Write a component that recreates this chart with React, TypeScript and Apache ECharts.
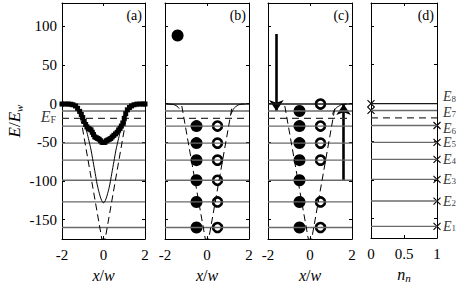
import React, { useEffect, useRef } from 'react';
import * as echarts from 'echarts';

// Energy levels E1..E8 (in units of E_w)
const levelNames = ['1', '2', '3', '4', '5', '6', '7', '8'];
const levelEnergies = [-160, -127, -99, -73, -51, -29, -9.5, -0.5];
const fermiEnergy = -19;
const yTickValues = [-150, -100, -50, 0, 50, 100];

// Panel (a): potentials and density curve
const potentialSolid: number[][] = [
  [-2, 0], [-1.6, -0.5], [-1.4, -2], [-1.2, -7], [-1.05, -15], [-0.9, -27], [-0.8, -37],
  [-0.7, -48], [-0.6, -60], [-0.5, -75], [-0.4, -90], [-0.3, -105], [-0.2, -116],
  [-0.12, -123], [-0.05, -127], [0, -128], [0.05, -127], [0.12, -123], [0.2, -116],
  [0.3, -105], [0.4, -90], [0.5, -75], [0.6, -60], [0.7, -48], [0.8, -37], [0.9, -27],
  [1.05, -15], [1.2, -7], [1.4, -2], [1.6, -0.5], [2, 0],
];
const potentialDashed: number[][] = [[-1.2, -3], [-0.08, -175], [0.08, -175], [1.2, -3]];
const densityCurve: number[][] = [
  [-2, -0.5], [-1.85, -0.5], [-1.7, -0.5], [-1.58, -0.8], [-1.47, -1.5], [-1.35, -3],
  [-1.25, -6], [-1.15, -10], [-1.07, -14], [-1.0, -18], [-0.93, -23], [-0.86, -27],
  [-0.8, -30], [-0.73, -32], [-0.66, -33], [-0.6, -34], [-0.54, -37], [-0.48, -40],
  [-0.42, -43], [-0.35, -44], [-0.28, -45], [-0.21, -46], [-0.14, -48], [-0.07, -50],
  [0, -50], [0.07, -50], [0.14, -48], [0.21, -47], [0.28, -46], [0.35, -45], [0.42, -43],
  [0.5, -41], [0.58, -39], [0.66, -37], [0.73, -34], [0.8, -32], [0.86, -29], [0.93, -25],
  [1.0, -19], [1.07, -13], [1.15, -8], [1.25, -5], [1.35, -3], [1.47, -1.5], [1.6, -0.7],
  [1.75, -0.5], [1.9, -0.5], [2, -0.5],
];

// Panels (b) and (c)
const bEdgeLeft: number[][] = [[-1.9, -0.5], [-1.65, -1], [-1.48, -2.5], [-1.38, -4.5], [-1.32, -6.5]];
const bEdgeRight: number[][] = [[1.14, -14], [1.22, -9], [1.32, -5], [1.42, -3], [1.58, -1], [1.8, -0.5]];
const cEdgeRight: number[][] = [[1.07, -14], [1.15, -9], [1.25, -5.5], [1.36, -3.5], [1.52, -1.2], [1.75, -0.5]];
const freeElectron: number[][] = [[-1.4, 88]];
const bFilled = [-160, -127, -99, -73, -51, -29];
const bOpen = [-160, -127, -99, -73, -51, -29];
const cFilled = [-160, -127, -99, -73, -51, -29, -9.5];
const cOpen = [-160, -127, -73, -51, -29, -0.5];
const filledX = -0.5;
const openX = 0.5;
const downArrow: number[][] = [[-1.6, 90], [-1.6, -9.5]];
const upArrow: number[][] = [[1.6, -99], [1.6, -0.5]];

// Panel (d): occupation n_n of each level
const occupation = [1, 1, 1, 1, 1, 1, 0, 0];
const labelShift = [0, 0, 0, 0, 0, 3, 2, -7];

const FONT = "'Liberation Serif', 'DejaVu Serif', serif";

const grids = [
  { left: 62, top: 3, width: 83, height: 237 },
  { left: 165, top: 3, width: 84, height: 237 },
  { left: 268, top: 3, width: 84, height: 237 },
  { left: 371, top: 3, width: 66, height: 237 },
];
const panelLetters = ['(a)', '(b)', '(c)', '(d)'];

export default function App() {
  const ref = useRef<HTMLDivElement>(null);
  useEffect(() => {
    if (!ref.current) return;
    const chart = echarts.init(ref.current, undefined, { renderer: 'svg' });

    const xAxes: any[] = [];
    const yAxes: any[] = [];
    const axisLine = { show: true, onZero: false, lineStyle: { color: '#000', width: 1 } };
    grids.forEach((g, i) => {
      const isD = i === 3;
      const xBase = {
        type: 'value',
        gridIndex: i,
        min: isD ? 0 : -2,
        max: isD ? 1 : 2,
        interval: isD ? 0.5 : 2,
        splitLine: { show: false },
        axisLine,
      };
      xAxes.push({
        ...xBase,
        position: 'bottom',
        axisTick: { show: true, inside: true, length: 3, lineStyle: { color: '#000' } },
        axisLabel: {
          show: true,
          fontFamily: FONT,
          fontSize: 15,
          color: '#000',
          margin: 8,
          formatter: (v: number) => String(v),
        },
        name: isD ? '{i|n}{s|n}' : '{i|x}{r|/}{i|w}',
        nameLocation: 'middle',
        nameGap: 27,
        nameTextStyle: {
          fontFamily: FONT,
          fontSize: 16,
          color: '#000',
          rich: {
            i: { fontFamily: FONT, fontSize: 16, fontStyle: 'italic', color: '#000' },
            r: { fontFamily: FONT, fontSize: 16, color: '#000' },
            s: { fontFamily: FONT, fontSize: 11, fontStyle: 'italic', color: '#000', padding: [7, 0, 0, 0] },
          },
        },
      });
      xAxes.push({
        ...xBase,
        position: 'top',
        axisTick: { show: true, inside: true, length: 3, lineStyle: { color: '#000' } },
        axisLabel: { show: false },
      });
      const yBase = {
        type: 'value',
        gridIndex: i,
        min: -175,
        max: 130,
        splitLine: { show: false },
        axisLine,
        axisTick: { show: true, inside: true, length: 3, customValues: yTickValues, lineStyle: { color: '#000' } },
      };
      yAxes.push({
        ...yBase,
        position: 'left',
        axisLabel: {
          show: i === 0,
          customValues: yTickValues,
          fontFamily: FONT,
          fontSize: 15,
          color: '#000',
          margin: 5,
        },
        name: i === 0 ? '{i|E}{r|/}{i|E}{s|w}' : '',
        nameLocation: 'middle',
        nameGap: 38,
        nameRotate: 90,
        nameTextStyle: {
          fontFamily: FONT,
          rich: {
            i: { fontFamily: FONT, fontSize: 17, fontStyle: 'italic', color: '#000' },
            r: { fontFamily: FONT, fontSize: 17, color: '#000' },
            s: { fontFamily: FONT, fontSize: 11, fontStyle: 'italic', color: '#000', padding: [8, 0, 0, 0] },
          },
        },
      });
      yAxes.push({ ...yBase, position: 'right', axisLabel: { show: false } });
    });

    const series: any[] = [];
    const ax = (i: number) => ({ xAxisIndex: i * 2, yAxisIndex: i * 2 });
    const lineS = (i: number, data: number[][], style: any, extra: any = {}) => ({
      type: 'line', ...ax(i), data, symbol: 'none', silent: true, lineStyle: style, ...extra,
    });

    grids.forEach((_, i) => {
      const xmin = i === 3 ? 0 : -2;
      const xmax = i === 3 ? 1 : 2;
      levelEnergies.forEach((e, j) => {
        series.push(lineS(i, [[xmin, e], [xmax, e]], { color: j === 7 && i > 0 ? '#1a1a1a' : '#6a6a6a', width: 1.3 }));
      });
      series.push(lineS(i, [[xmin, fermiEnergy], [xmax, fermiEnergy]], { color: '#333', width: 1.2, type: [7, 5] }));
    });

    // Panel (a)
    series.push(lineS(0, potentialDashed, { color: '#000', width: 1, type: [7, 4] }));
    series.push(lineS(0, potentialSolid, { color: '#000', width: 1 }, { smooth: 0.4 }));
    series.push({
      type: 'line', ...ax(0), data: densityCurve, silent: true,
      symbol: 'rect', symbolSize: 5, showAllSymbol: true,
      itemStyle: { color: '#000', opacity: 1 },
      lineStyle: { color: '#000', width: 3 },
    });
    series.push({
      type: 'scatter', ...ax(0), data: [[-2, fermiEnergy]], symbolSize: 0, silent: true,
      label: {
        show: true, position: 'left', distance: 6, offset: [0, -2],
        formatter: '{i|E}{s|F}',
        rich: {
          i: { fontFamily: FONT, fontSize: 16, fontStyle: 'italic', color: '#000' },
          s: { fontFamily: FONT, fontSize: 10, color: '#000', padding: [7, 0, 0, 0] },
        },
      },
    });

    // Panels (b) and (c)
    [1, 2].forEach((i) => {
      series.push(lineS(i, potentialDashed, { color: '#000', width: 1, type: [7, 4] }));
    });
    series.push(lineS(1, bEdgeLeft, { color: '#000', width: 1 }, { smooth: true }));
    series.push(lineS(1, bEdgeRight, { color: '#000', width: 1 }, { smooth: true }));
    series.push(lineS(2, cEdgeRight, { color: '#000', width: 1 }, { smooth: true }));

    const filledStyle = { color: '#000', opacity: 1 };
    const openStyle = { color: '#fff', borderColor: '#000', borderWidth: 2.6, opacity: 1 };
    series.push({ type: 'scatter', ...ax(1), data: freeElectron, symbolSize: 12, itemStyle: filledStyle, silent: true });
    series.push({ type: 'scatter', ...ax(1), data: bFilled.map((e) => [filledX, e]), symbolSize: 12, itemStyle: filledStyle, silent: true });
    series.push({ type: 'scatter', ...ax(1), data: bOpen.map((e) => [openX, e]), symbolSize: 9, itemStyle: openStyle, silent: true });
    series.push({ type: 'scatter', ...ax(2), data: cFilled.map((e) => [filledX, e]), symbolSize: 12, itemStyle: filledStyle, silent: true });
    series.push({ type: 'scatter', ...ax(2), data: cOpen.map((e) => [openX, e]), symbolSize: 9, itemStyle: openStyle, silent: true });
    series.push({
      type: 'lines', coordinateSystem: 'cartesian2d', ...ax(2), silent: true,
      symbol: ['none', 'arrow'], symbolSize: 11,
      lineStyle: { color: '#000', width: 2.6, opacity: 1 },
      data: [{ coords: downArrow }, { coords: upArrow }],
    });

    // Panel (d)
    const crossPath = 'path://M0,0L10,10M10,0L0,10';
    series.push({
      type: 'scatter', ...ax(3), silent: true,
      data: occupation.map((n, j) => [n, levelEnergies[j]]),
      symbol: crossPath, symbolSize: 7,
      itemStyle: { color: 'none', borderColor: '#000', borderWidth: 1.1, opacity: 1 },
    });
    series.push({
      type: 'scatter', ...ax(3), silent: true, symbolSize: 0, clip: false,
      data: levelEnergies.map((e, j) => ({
        value: [1, e],
        label: { offset: [0, labelShift[j]] },
      })),
      label: {
        show: true, position: 'right', distance: 6,
        formatter: (p: any) => '{i|E}{s|' + levelNames[p.dataIndex] + '}',
        rich: {
          i: { fontFamily: FONT, fontSize: 14, fontStyle: 'italic', color: '#000', lineHeight: 11 },
          s: { fontFamily: FONT, fontSize: 9, color: '#000', padding: [4, 0, 0, 0], lineHeight: 7 },
        },
      },
    });

    const graphic = grids.map((g, i) => ({
      type: 'text',
      x: g.left + g.width - 3,
      y: 15,
      style: { text: panelLetters[i], font: "14px 'Liberation Serif', serif", fill: '#000', align: 'right', verticalAlign: 'middle' },
      silent: true,
    }));

    chart.setOption({
      animation: false,
      grid: grids.map((g) => ({ ...g, containLabel: false })),
      xAxis: xAxes,
      yAxis: yAxes,
      series,
      graphic,
    });
    return () => chart.dispose();
  }, []);
  return (
    <div
      ref={ref}
      style={{ position: 'fixed', left: 0, top: 0, width: 464, height: 288, background: '#fff' }}
    />
  );
}
